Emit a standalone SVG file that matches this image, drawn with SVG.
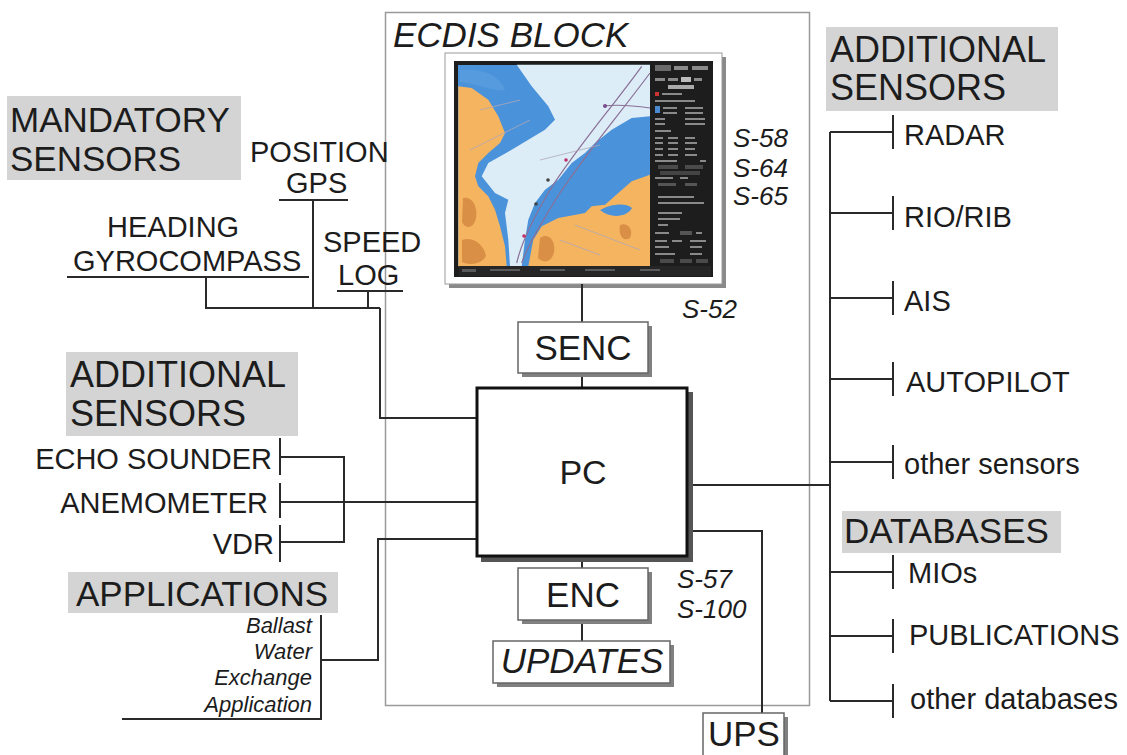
<svg xmlns="http://www.w3.org/2000/svg" width="1127" height="755" viewBox="0 0 1127 755">
<style>
.t{font-family:"Liberation Sans",Arial,sans-serif;fill:#1c1c1c}
.i{font-style:italic}
.h{font-size:36px}
.l{font-size:29px}
.b{font-size:35px}
.s{font-size:26px}
.ln{stroke:#2a2a2a;stroke-width:2;fill:none}
.hd{fill:#d4d4d4}
.box{fill:#fff;stroke:#666;stroke-width:1.5}
.sh{fill:#808080}
.sb{fill:#8a8a8a}
.sb2{fill:#5a5a5a}
.rt{stroke:#8a6f96;stroke-width:1.2;fill:none}
</style>
<rect width="1127" height="755" fill="#fff"/>

<g id="ecdis-block">
<rect x="385.5" y="12.5" width="424" height="693" fill="none" stroke="#9a9a9a" stroke-width="1.5"/>
<text class="t i" x="393" y="47" font-size="35">ECDIS BLOCK</text>
</g>

<g id="chart-display">
<rect x="449" y="57" width="277" height="231" fill="#8a8a8a"/>
<rect x="445" y="53" width="277" height="231" fill="#fff" stroke="#999" stroke-width="1"/>
<rect x="454" y="61" width="259" height="216" fill="#1d1d1d"/>
<rect x="458" y="65" width="192" height="201" fill="#4a92da"/>
<polygon fill="#dcedf8" points="516.7,64.7 650,64.7 650,116.3 631.7,118 611.7,129.7 595,143 585,153 571.7,163 558.3,179.7 545,189.7 535,203 528.3,219.7 525,239.7 521.7,266.3 510,266.3 508.3,239.7 505,213 508.3,199.7 495,193 481.7,176.3 488.3,163 511.7,149.7 528.3,139.7 545,129.7 555,119.7 548.3,106.3 531.7,86.3"/>
<polygon fill="#f5b460" points="458.3,86.3 471.7,88 488.3,99.7 498.3,116.3 505,133 500,143 488.3,153 478.3,163 475,176.3 478.3,186.3 488.3,196.3 495,209.7 500,226.3 505,246.3 506.7,266.3 458.3,266.3"/>
<polygon fill="#f5b460" points="528.3,266.3 533.3,239.7 541.7,226.3 558.3,218 585,213 591.7,206.3 605,204.7 618.3,193 631.7,181.3 650,174.7 650,266.3"/>
<path fill="#d98f45" d="M463,198 C472,196 478,206 476,218 C474,228 466,230 462,222 Z M462,240 C472,236 484,244 486,256 C482,264 470,266 462,262 Z M540,238 C548,232 556,240 554,252 C552,262 544,264 538,258 Z M620,225 C628,222 634,230 630,238 C624,242 618,236 620,225 Z"/>
<path fill="#4a92da" d="M600,210 C610,204 626,202 632,208 C628,216 612,220 600,210 Z"/>
<path fill="#5b9fe0" opacity="0.7" d="M460,70 C480,68 500,74 505,90 C495,92 478,84 460,82 Z"/>
<path class="rt" d="M641.7,66.3 C610,110 575,150 550,190 C535,215 522,240 516.7,263"/>
<path class="rt" d="M650,73 C618,116 584,156 558,196 C542,222 528,245 521.7,263"/>
<path class="rt" d="M604,106 C620,104 636,106 650,108"/>
<path stroke="#b0a8b8" stroke-width="0.8" fill="none" d="M470,150 L530,120 M540,160 L600,145 M560,240 L600,255 M575,225 L640,250 M480,110 L520,100"/>
<circle cx="605" cy="106" r="2" fill="#7a4a8a"/>
<circle cx="566" cy="160" r="1.8" fill="#c0306a"/>
<circle cx="548" cy="180" r="1.8" fill="#444"/>
<circle cx="536" cy="204" r="1.8" fill="#444"/>
<circle cx="524" cy="236" r="1.8" fill="#c0306a"/>
<rect x="459" y="266" width="252" height="10" fill="#262626"/>
<g class="sb2">
<rect x="462" y="269" width="14" height="3"/><rect x="490" y="269" width="30" height="2"/><rect x="540" y="269" width="25" height="2"/><rect x="585" y="269" width="30" height="2"/><rect x="640" y="269" width="20" height="2"/>
</g>
<g class="sb">
<rect x="655" y="65" width="16" height="6" fill="#6a6a6a"/><rect x="674" y="66" width="14" height="4"/><rect x="692" y="66" width="16" height="4"/>
<rect x="655" y="78" width="10" height="3"/><rect x="668" y="78" width="10" height="3"/><rect x="681" y="77" width="10" height="5" fill="#bbb"/><rect x="694" y="78" width="8" height="3"/>
<rect x="668" y="85" width="26" height="4" fill="#aaa"/>
<rect x="655" y="92" width="4" height="4" fill="#c33"/><rect x="662" y="93" width="20" height="2"/>
<rect x="655" y="100" width="40" height="2"/>
<rect x="655" y="106" width="5" height="7" fill="#4a8ad0"/><rect x="663" y="107" width="14" height="2"/><rect x="685" y="107" width="18" height="2"/>
<rect x="663" y="112" width="14" height="2"/><rect x="685" y="112" width="18" height="2"/>
<rect x="655" y="118" width="10" height="2"/><rect x="685" y="118" width="20" height="2"/>
<rect x="655" y="123" width="10" height="2"/><rect x="685" y="123" width="20" height="2"/>
<rect x="655" y="130" width="16" height="2"/>
<rect x="655" y="137" width="8" height="2"/><rect x="668" y="137" width="10" height="2"/><rect x="685" y="137" width="10" height="2"/>
<rect x="655" y="142" width="8" height="2"/><rect x="668" y="142" width="10" height="2"/><rect x="685" y="142" width="12" height="2"/>
<rect x="655" y="148" width="8" height="2"/><rect x="668" y="148" width="10" height="2"/><rect x="685" y="148" width="10" height="2"/>
<rect x="655" y="154" width="8" height="2"/><rect x="668" y="154" width="10" height="2"/><rect x="685" y="154" width="12" height="2"/>
<rect x="655" y="160" width="22" height="2"/><rect x="700" y="160" width="6" height="2"/>
<rect x="658" y="165" width="20" height="4" fill="#4a4a4a"/><rect x="685" y="165" width="18" height="4" fill="#4a4a4a"/>
<rect x="660" y="171" width="40" height="4" fill="#444"/>
<rect x="655" y="177" width="18" height="2"/><rect x="680" y="177" width="8" height="2"/>
<rect x="658" y="183" width="18" height="3" fill="#555"/><rect x="685" y="183" width="12" height="3" fill="#555"/>
<rect x="658" y="196" width="36" height="2"/><rect x="658" y="202" width="46" height="2"/>
<rect x="658" y="212" width="24" height="2"/><rect x="658" y="218" width="22" height="2"/><rect x="658" y="224" width="10" height="2"/>
<rect x="655" y="232" width="14" height="2"/><rect x="680" y="231" width="12" height="4" fill="#555"/><rect x="696" y="232" width="6" height="2"/>
<rect x="655" y="240" width="12" height="2"/><rect x="672" y="240" width="10" height="2"/><rect x="690" y="240" width="16" height="2"/>
<rect x="655" y="246" width="14" height="2"/><rect x="690" y="246" width="12" height="2"/>
<rect x="655" y="253" width="20" height="2"/><rect x="690" y="253" width="12" height="2"/>
<rect x="660" y="259" width="14" height="4" fill="#4a4a4a"/><rect x="680" y="259" width="12" height="4" fill="#4a4a4a"/><rect x="696" y="259" width="12" height="4" fill="#4a4a4a"/>
</g>
</g>

<g id="connectors">
<path class="ln" d="M582,284 V322 M582,373 V387 M582,557 V568 M582,620 V641"/>
<path class="ln" d="M67,277 H309 M279,200 H348 M337,291 H403"/>
<path class="ln" d="M206,277 V308 H380 M313,200 V308 M368,291 V308 M380,308 V418 H476"/>
<path class="ln" d="M280,438 V475 M280,483 V518 M280,525 V562"/>
<path class="ln" d="M280,457 H344 V542 H280 M280,502 H476"/>
<path class="ln" d="M321,615 V719 H122 M321,660 H378 V539 H476"/>
<path class="ln" d="M688,485 H830 M830,132 V701"/>
<path class="ln" d="M830,132 H893 M830,213 H893 M830,298 H893 M830,379 H893 M830,462 H893 M830,572 H893 M830,636 H893 M830,701 H893"/>
<path class="ln" d="M893,115 V149 M893,196 V230 M893,281 V315 M893,362 V396 M893,445 V479 M893,555 V589 M893,619 V653 M893,684 V718"/>
<path class="ln" d="M688,531 H762 V713"/>
</g>

<g id="mandatory-sensors">
<rect class="hd" x="7" y="96" width="234" height="84"/>
<text class="t" x="10" y="132" font-size="35">MANDATORY</text>
<text class="t" x="10" y="171" font-size="35">SENSORS</text>
</g>
<g id="position-gps">
<text class="t l" x="250" y="162">POSITION</text>
<text class="t l" x="286" y="193">GPS</text>
</g>
<g id="heading-gyrocompass">
<text class="t l" x="107" y="237">HEADING</text>
<text class="t l" x="73" y="271">GYROCOMPASS</text>
</g>
<g id="speed-log">
<text class="t l" x="323" y="252">SPEED</text>
<text class="t l" x="338" y="285">LOG</text>
</g>

<g id="additional-sensors-left">
<rect class="hd" x="66" y="352" width="232" height="84"/>
<text class="t h" x="70" y="387">ADDITIONAL</text>
<text class="t h" x="70" y="426">SENSORS</text>
</g>
<g id="echo-sounder"><text class="t l" x="272" y="469" text-anchor="end">ECHO SOUNDER</text></g>
<g id="anemometer"><text class="t l" x="268" y="513" text-anchor="end">ANEMOMETER</text></g>
<g id="vdr"><text class="t l" x="274" y="554" text-anchor="end">VDR</text></g>

<g id="applications">
<rect class="hd" x="68" y="572" width="270" height="41"/>
<text class="t" x="76" y="606" font-size="35">APPLICATIONS</text>
</g>
<g id="ballast-water">
<text class="t i" x="312" y="633" font-size="22" text-anchor="end">Ballast</text>
<text class="t i" x="312" y="659" font-size="22" text-anchor="end">Water</text>
<text class="t i" x="312" y="685" font-size="22" text-anchor="end">Exchange</text>
<text class="t i" x="312" y="712" font-size="22" text-anchor="end">Application</text>
</g>

<g id="standards">
<text class="t i s" x="733" y="147">S-58</text>
<text class="t i s" x="733" y="177">S-64</text>
<text class="t i s" x="733" y="205">S-65</text>
<text class="t i s" x="682" y="318">S-52</text>
<text class="t i s" x="677" y="588">S-57</text>
<text class="t i s" x="677" y="618">S-100</text>
</g>

<g id="senc">
<rect class="sh" x="522" y="326" width="130" height="51"/>
<rect class="box" x="518" y="322" width="130" height="51"/>
<text class="t b" x="583" y="360" text-anchor="middle">SENC</text>
</g>
<g id="pc">
<rect x="481" y="392" width="212" height="170" fill="#555"/>
<rect x="477" y="388" width="210" height="168" fill="#fff" stroke="#111" stroke-width="3"/>
<text class="t" x="583" y="484" font-size="34" text-anchor="middle">PC</text>
</g>
<g id="enc">
<rect class="sh" x="522" y="572" width="130" height="52"/>
<rect class="box" x="518" y="568" width="130" height="52"/>
<text class="t b" x="583" y="607" text-anchor="middle">ENC</text>
</g>
<g id="updates">
<rect class="sh" x="497" y="645" width="177" height="42"/>
<rect class="box" x="493" y="641" width="177" height="42"/>
<text class="t b i" x="582" y="673" text-anchor="middle">UPDATES</text>
</g>
<g id="ups">
<rect class="sh" x="707" y="717" width="81" height="45"/>
<rect class="box" x="703" y="713" width="81" height="50"/>
<text class="t b" x="708" y="746">UPS</text>
</g>

<g id="additional-sensors-right">
<rect class="hd" x="826" y="27" width="232" height="84"/>
<text class="t h" x="830" y="62">ADDITIONAL</text>
<text class="t h" x="830" y="100">SENSORS</text>
</g>
<g id="radar"><text class="t l" x="904" y="145">RADAR</text></g>
<g id="rio-rib"><text class="t l" x="904" y="227">RIO/RIB</text></g>
<g id="ais"><text class="t l" x="904" y="311">AIS</text></g>
<g id="autopilot"><text class="t l" x="906" y="392">AUTOPILOT</text></g>
<g id="other-sensors"><text class="t l" x="904" y="474">other sensors</text></g>
<g id="databases">
<rect class="hd" x="842" y="511" width="219" height="42"/>
<text class="t" x="844" y="543" font-size="35">DATABASES</text>
</g>
<g id="mios"><text class="t l" x="908" y="583">MIOs</text></g>
<g id="publications"><text class="t l" x="909" y="645">PUBLICATIONS</text></g>
<g id="other-databases"><text class="t l" x="910" y="709">other databases</text></g>
</svg>
